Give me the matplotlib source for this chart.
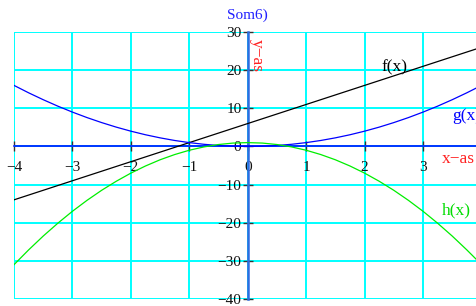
import matplotlib
matplotlib.use("Agg")
import matplotlib.pyplot as plt

# --- values -------------------------------------------------------------------------------------
X = [-4.0, -3.75, -3.5, -3.25, -3.0, -2.75, -2.5, -2.25, -2.0, -1.75, -1.5, -1.25, -1.0,
     -0.75, -0.5, -0.25, 0.0, 0.25, 0.5, 0.75, 1.0, 1.25, 1.5, 1.75, 2.0, 2.25, 2.5, 2.75,
     3.0, 3.25, 3.5, 3.75, 3.92]
F = [-14.0, -12.75, -11.5, -10.25, -9.0, -7.75, -6.5, -5.25, -4.0, -2.75, -1.5, -0.25, 1.0,
     2.25, 3.5, 4.75, 6.0, 7.25, 8.5, 9.75, 11.0, 12.25, 13.5, 14.75, 16.0, 17.25, 18.5, 19.75,
     21.0, 22.25, 23.5, 24.75, 25.6]
G = [16.0, 14.06, 12.25, 10.56, 9.0, 7.56, 6.25, 5.06, 4.0, 3.06, 2.25, 1.56, 1.0,
     0.56, 0.25, 0.06, 0.0, 0.06, 0.25, 0.56, 1.0, 1.56, 2.25, 3.06, 4.0, 5.06, 6.25, 7.56,
     9.0, 10.56, 12.25, 14.06, 15.37]
H = [-31.0, -27.13, -23.5, -20.13, -17.0, -14.13, -11.5, -9.13, -7.0, -5.13, -3.5, -2.13, -1.0,
     -0.13, 0.5, 0.88, 1.0, 0.88, 0.5, -0.13, -1.0, -2.13, -3.5, -5.13, -7.0, -9.13, -11.5,
     -14.13, -17.0, -20.13, -23.5, -27.13, -29.73]
X_TICKS = [-4, -3, -2, -1, 0, 1, 2, 3]
Y_TICKS = [-40, -30, -20, -10, 0, 10, 20, 30]
X_LIM = (-4.0, 3.924)
Y_LIM = (-40, 30)

plt.rcParams["font.family"] = ["Liberation Serif", "DejaVu Serif"]
plt.rcParams["axes.unicode_minus"] = True

fig = plt.figure(figsize=(4.77, 3.06), dpi=100)
ax = fig.add_axes([14 / 477, 7 / 306, 1 - 14 / 477, 267 / 306])
ax.set_xlim(*X_LIM)
ax.set_ylim(*Y_LIM)

# grid
ax.set_xticks(X_TICKS)
ax.set_yticks(Y_TICKS)
ax.grid(True, color="#00ffff", lw=1.4, zorder=0)
ax.set_axisbelow(True)

# axes through the origin
for side in ("top", "right"):
    ax.spines[side].set_visible(False)
ax.spines["bottom"].set_position(("data", 0))
ax.spines["left"].set_position(("data", 0))
ax.spines["bottom"].set_color("#0000ff")
ax.spines["bottom"].set_linewidth(1.1)
ax.spines["left"].set_color("#2f6be0")
ax.spines["left"].set_linewidth(1.8)
ax.spines["bottom"].set_zorder(3)
ax.spines["left"].set_zorder(3)
ax.tick_params(direction="inout", length=7, width=1.0, color="#333333", labelsize=11,
               labelcolor="#111111")
ax.tick_params(axis="x", pad=7)
ax.tick_params(axis="y", pad=1)
for lab in ax.get_xticklabels() + ax.get_yticklabels():
    lab.set_clip_on(False)

# curves
ax.plot(X, F, color="black", lw=0.9, zorder=4)
ax.plot(X, G, color="#0000ff", lw=0.9, zorder=4)
ax.plot(X, H, color="#00ee00", lw=0.9, zorder=4)

# labels
ax.text(2.52, 20.7, "f(x)", color="black", fontsize=12.5, ha="center", va="center", zorder=5)
ax.text(3.5, 8.1, "g(x)", color="#0000ff", fontsize=12.5, ha="left", va="center", zorder=5)
ax.text(3.57, -16.8, "h(x)", color="#00dd00", fontsize=12.5, ha="center", va="center", zorder=5)
ax.text(3.6, -3.2, "x\u2212as", color="#ff2020", fontsize=12.5, ha="center", va="center", zorder=5)
ax.text(0.16, 23.9, "y\u2212as", color="#ff2020", fontsize=12.5, ha="center", va="center",
        rotation=270, zorder=5)
fig.text(247 / 477, 1 - 15 / 306, "Som6)", color="#2020ff", fontsize=11, ha="center", va="center")

fig.savefig("out.png", dpi=100)
